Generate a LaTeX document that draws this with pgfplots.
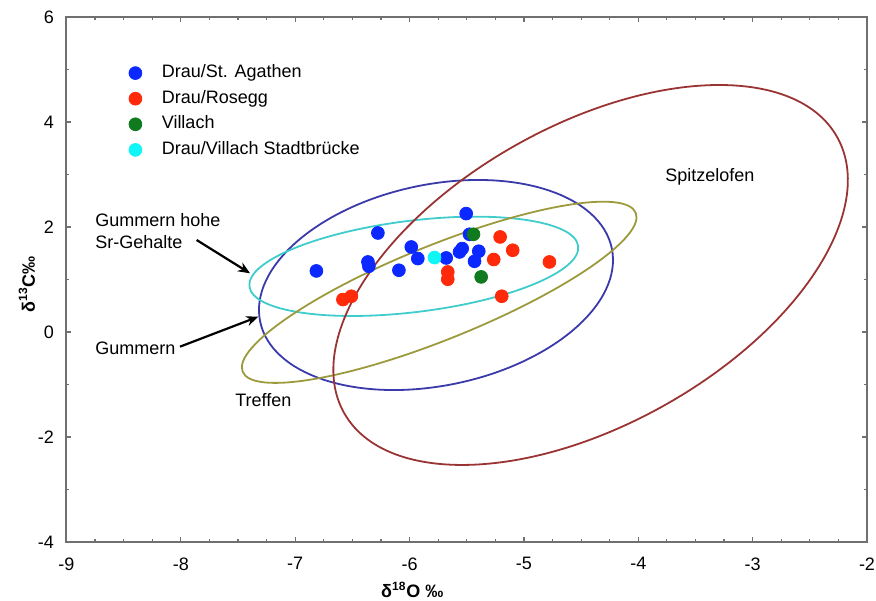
\documentclass[border=0pt]{standalone}
\usepackage{fontspec}
\setmainfont{Liberation Sans}
\usepackage{pgfplots}
\pgfplotsset{compat=1.18}
\usetikzlibrary{arrows.meta}
\definecolor{ptblue}{HTML}{0A28FF}
\definecolor{ptred}{HTML}{FF2A0A}
\definecolor{ptgreen}{HTML}{0F7A1E}
\definecolor{ptcyan}{HTML}{10F5F5}
\definecolor{elblue}{HTML}{3A3AAA}
\definecolor{elcyan}{HTML}{40CCCC}
\definecolor{elolive}{HTML}{9C9A3C}
\definecolor{elred}{HTML}{9A3434}
\definecolor{axgray}{HTML}{707070}
\newcommand\nf{\fontsize{9}{10.85}\selectfont}
\begin{document}
\begin{tikzpicture}
\begin{axis}[
  scale only axis, width=400.25pt, height=262.5pt,
  xmin=-9, xmax=-2, ymin=-4, ymax=6,
  xtick={-9,...,-2}, ytick={-4,-2,...,6},
  minor x tick num=3, minor y tick num=1,
  tick align=inside,
  major tick length=2.5pt, minor tick length=1.5pt,
  axis line style={axgray, line width=1pt},
  every tick/.style={axgray, line width=0.6pt},
  /pgf/number format/assume math mode=true,
  tick label style={font=\nf, black},
  xticklabel style={yshift=-4.25pt},
  yticklabel style={xshift=-2.75pt},
  xlabel={\textbf{δ\textsuperscript{18}O ‰}},
  ylabel={\textbf{δ\textsuperscript{13}C‰}},
  label style={font=\nf},
  xlabel style={at={(axis description cs:0.432,-0.0914)}, anchor=center},
  ylabel style={at={(axis description cs:-0.0495,0.491)}, anchor=center},
  legend style={draw=none, fill=none, font=\nf,
    at={(axis description cs:0.0776,0.9101)}, anchor=north west,
    inner sep=0pt, row sep=4.3pt,
    nodes={inner sep=0pt, text height=6.5pt, text depth=2pt},
    /tikz/every odd column/.append style={column sep=10pt}},
  legend cell align=left,
]
% ellipses
\draw[elblue, line width=0.9pt, rotate around={11.8:(axis cs:-5.769,0.895)}] (axis cs:-5.769,0.895) ellipse [x radius=89.8pt, y radius=50.25pt];
\draw[elcyan, line width=0.9pt, rotate around={7.0:(axis cs:-5.963,1.251)}] (axis cs:-5.963,1.251) ellipse [x radius=82.8pt, y radius=22.85pt];
\draw[elolive, line width=0.9pt, rotate around={22:(axis cs:-5.741,0.756)}] (axis cs:-5.741,0.756) ellipse [x radius=106pt, y radius=23.5pt];
\draw[elred, line width=0.9pt, rotate around={29.2:(axis cs:-4.417,1.086)}] (axis cs:-4.417,1.086) ellipse [x radius=141.25pt, y radius=74.9pt];

\addplot[only marks, mark=*, mark size=3.2pt, color=ptblue] coordinates {
(-6.815,1.163) (-6.277,1.886) (-6.364,1.334) (-6.356,1.252) (-6.093,1.176)
(-5.985,1.619) (-5.928,1.399) (-5.680,1.410) (-5.563,1.524) (-5.540,1.589)
(-5.505,2.255) (-5.476,1.861) (-5.395,1.538) (-5.432,1.347)};
\addlegendentry{Drau/St. Agathen}
\addplot[only marks, mark=*, mark size=3.2pt, color=ptred] coordinates {
(-5.666,1.144) (-5.666,1.005) (-5.264,1.380) (-5.208,1.810) (-5.098,1.557)
(-4.777,1.334) (-5.194,0.681) (-6.583,0.618) (-6.509,0.681)};
\addlegendentry{Drau/Rosegg}
\addplot[only marks, mark=*, mark size=3.2pt, color=ptgreen] coordinates {
(-5.441,1.861) (-5.374,1.049)};
\addlegendentry{Villach}
\addplot[only marks, mark=*, mark size=3.2pt, color=ptcyan] coordinates {
(-5.782,1.418)};
\addlegendentry{Drau/Villach Stadtbrücke}

% annotations
\node[font=\nf, anchor=west, align=left, inner sep=0pt] at (axis cs:-8.751,1.928) {Gummern hohe\\Sr-Gehalte};
\draw[black, line width=1.1pt, -{Stealth[length=6pt,width=5pt]}] (axis cs:-7.862,1.752) -- (axis cs:-7.395,1.118);
\node[font=\nf, anchor=west, inner sep=0pt] at (axis cs:-8.751,-0.310) {Gummern};
\draw[black, line width=1.1pt, -{Stealth[length=6pt,width=5pt]}] (axis cs:-8.008,-0.280) -- (axis cs:-7.323,0.291);
\node[font=\nf, anchor=west, inner sep=0pt] at (axis cs:-7.527,-1.295) {Treffen};
\node[font=\nf, anchor=west, inner sep=0pt] at (axis cs:-3.766,2.958) {Spitzelofen};
\end{axis}
\pgfresetboundingbox
\path ([shift={(-33.25pt,-29.5pt)}]current axis.south west) rectangle ([shift={(4.5pt,8.5pt)}]current axis.north east);
\end{tikzpicture}
\end{document}
